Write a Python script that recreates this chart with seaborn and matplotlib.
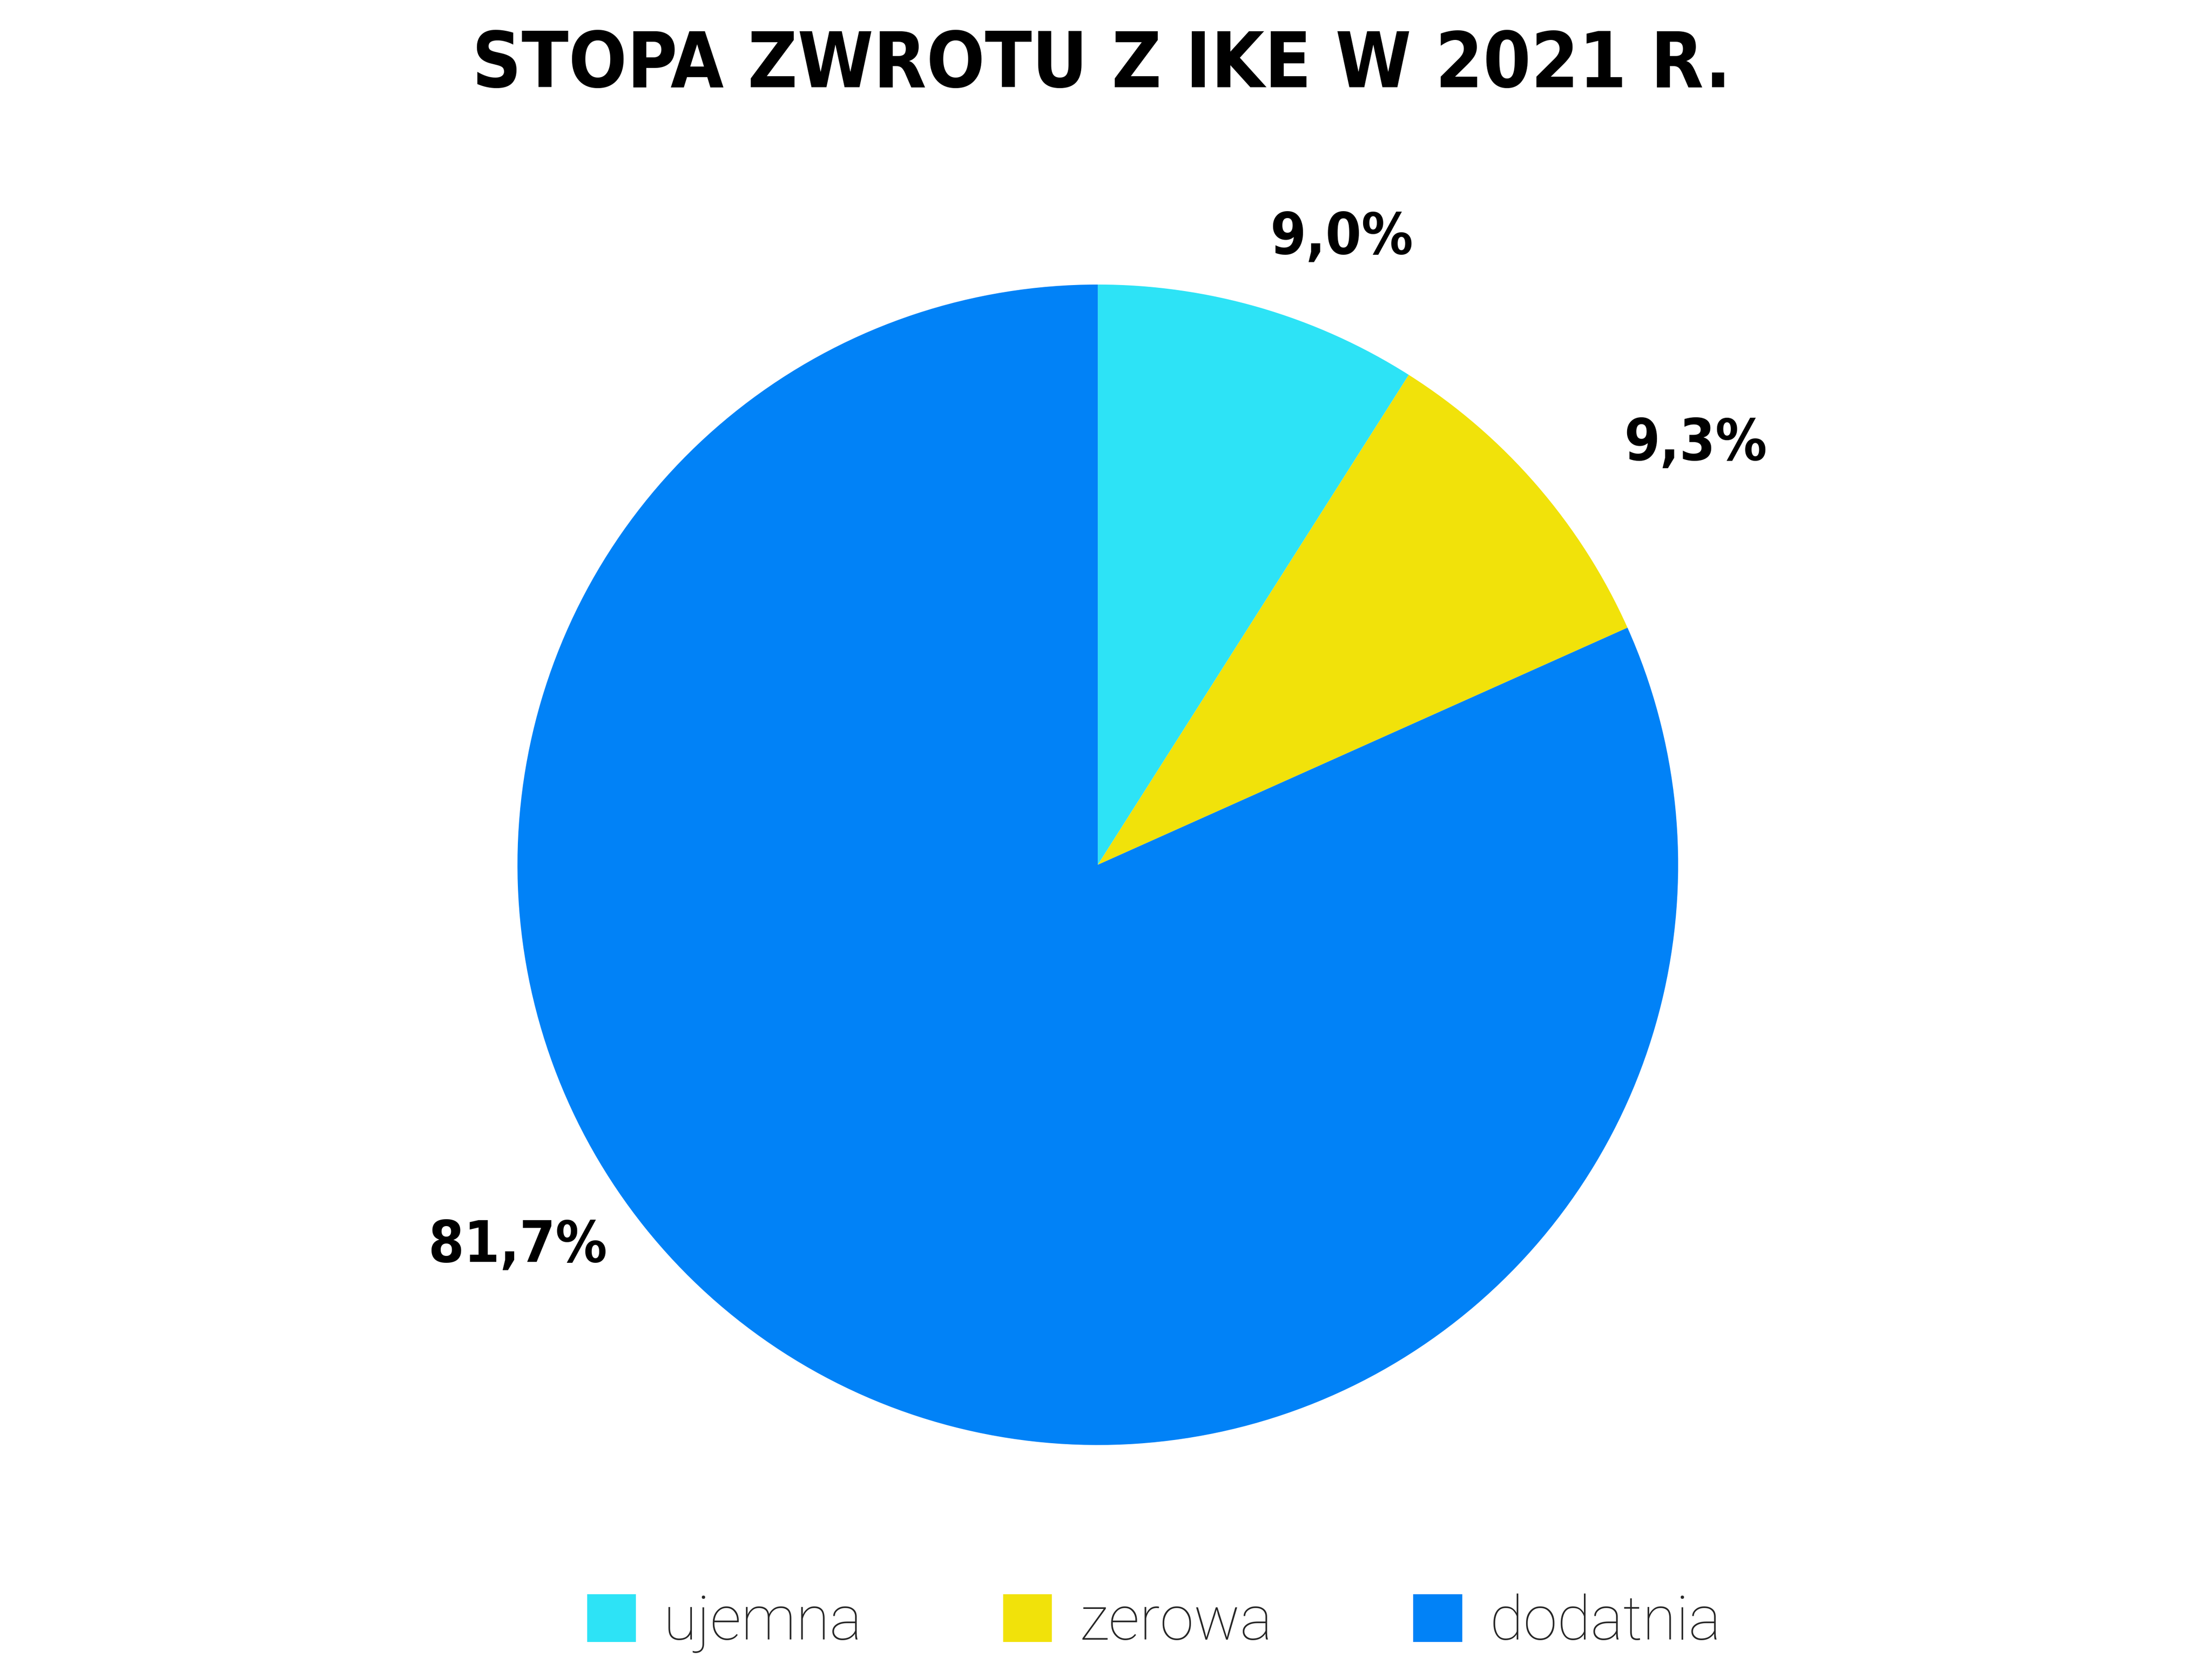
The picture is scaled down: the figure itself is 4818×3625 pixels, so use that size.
import matplotlib
matplotlib.use("Agg")
import matplotlib.pyplot as plt
import seaborn as sns
from matplotlib.patches import Patch

sns.set_theme(style="white")
plt.rcParams["font.family"] = ["DejaVu Sans"]

# dane
kategorie = ["ujemna", "zerowa", "dodatnia"]
udzialy = [9.0, 9.3, 81.7]
etykiety = ["9,0%", "9,3%", "81,7%"]
kolory = ["#2de3f6", "#f1e20a", "#0182f7"]
# pozycje etykiet (x, y) w jednostkach promienia
poz_etykiet = [(0.42, 1.08), (1.03, 0.725), (-1.0, -0.657)]

fig = plt.figure(figsize=(4818 / 300, 3625 / 300), dpi=300)
ax = fig.add_axes([0.4963 - 0.2624, 0.4803 - 0.3487, 0.5248, 0.6974])

wedges, _ = ax.pie(udzialy, colors=kolory, startangle=90, counterclock=False,
                   wedgeprops=dict(linewidth=0))
ax.set_xlim(-1, 1)
ax.set_ylim(-1, 1)
ax.set_aspect("equal")
ax.axis("off")

for txt, (x, y) in zip(etykiety, poz_etykiet):
    ax.text(x, y, txt, ha="center", va="center", fontsize=30,
            fontweight="bold", fontstretch="condensed", color="black",
            clip_on=False)

fig.text(0.498, 0.9475, "STOPA ZWROTU Z IKE W 2021 R.", ha="center",
         va="baseline", fontsize=40, fontweight="bold", fontstretch="condensed",
         color="black")

uchwyty = [Patch(facecolor=c, edgecolor="none") for c in kolory]
leg = fig.legend(uchwyty, kategorie, loc="center", bbox_to_anchor=(0.5217, 0.0246),
                 ncol=3, frameon=False, handlelength=0.8, handleheight=0.82,
                 handletextpad=0.45, columnspacing=2.3,
                 prop=dict(family=["Roboto", "DejaVu Sans"], weight="light", size=32))

fig.savefig("out.png", dpi=300, facecolor="white")
